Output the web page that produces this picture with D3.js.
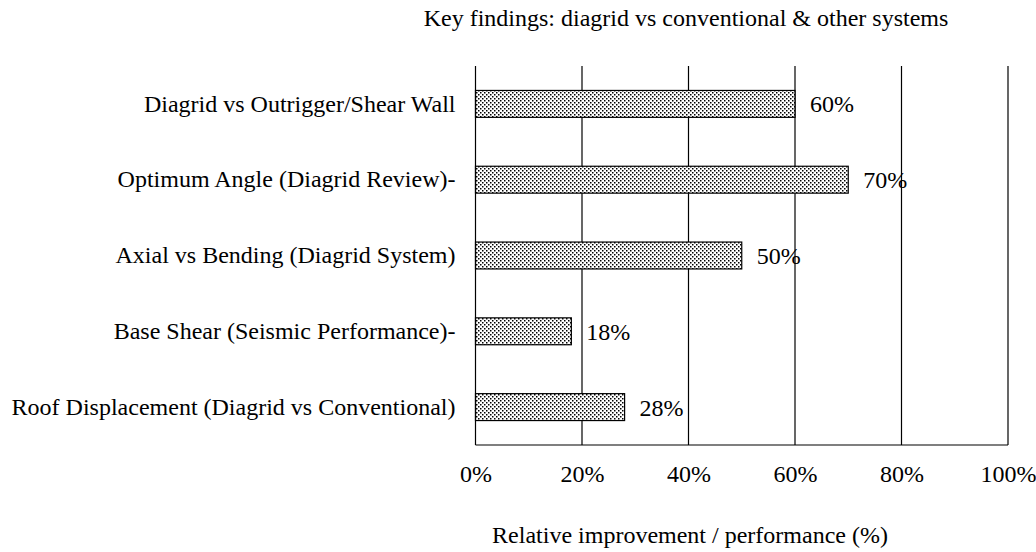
<!DOCTYPE html>
<html><head><meta charset="utf-8">
<script src="https://cdn.jsdelivr.net/npm/d3@7"></script>
<style>body{margin:0;background:#fff}svg{display:block}</style>
</head><body><svg id="c" width="1036" height="552"></svg>
<script>
const categories = ["Diagrid vs Outrigger/Shear Wall","Optimum Angle (Diagrid Review)-","Axial vs Bending (Diagrid System)","Base Shear (Seismic Performance)-","Roof Displacement (Diagrid vs Conventional)"];
const values = [60, 70, 50, 18, 28];
const valueLabels = ["60%","70%","50%","18%","28%"];
const tickValues = [0, 20, 40, 60, 80, 100];
const tickLabels = ["0%","20%","40%","60%","80%","100%"];
const title = "Key findings: diagrid vs conventional & other systems";
const xTitle = "Relative improvement / performance (%)";

const FONT = "'Liberation Serif', 'Times New Roman', Times, 'DejaVu Serif', serif";
const svg = d3.select("#c").attr("font-family", FONT);
const L = 475.5, R = 1008, T = 66, B = 445;
const fs = 24;
const x = d3.scaleLinear().domain([0,100]).range([L,R]);
const y = d3.scaleBand().domain(categories).range([T,B]).paddingInner(0.645).paddingOuter(0.3225);

const defs = svg.append("defs");
const pat = defs.append("pattern").attr("id","dots").attr("patternUnits","userSpaceOnUse").attr("width",4).attr("height",4);
pat.append("rect").attr("width",4).attr("height",4).attr("fill","#fff");
pat.append("rect").attr("x",0).attr("y",0).attr("width",1.5).attr("height",1.5).attr("fill","#000");
pat.append("rect").attr("x",2).attr("y",2).attr("width",1.5).attr("height",1.5).attr("fill","#000");

svg.append("g").selectAll("line").data(tickValues.slice(1)).join("line")
  .attr("x1",d=>x(d)).attr("x2",d=>x(d)).attr("y1",T).attr("y2",B)
  .attr("stroke","#000").attr("stroke-width",1.2);

svg.append("g").selectAll("rect").data(values).join("rect")
  .attr("x",x(0)).attr("y",(d,i)=>y(categories[i]))
  .attr("width",d=>x(d)-x(0)).attr("height",y.bandwidth())
  .attr("fill","url(#dots)").attr("stroke","#000").attr("stroke-width",1.2);

svg.append("line").attr("x1",L).attr("x2",L).attr("y1",T).attr("y2",B).attr("stroke","#000").attr("stroke-width",1.2);
svg.append("line").attr("x1",L).attr("x2",R).attr("y1",B).attr("y2",B).attr("stroke","#000").attr("stroke-width",1.2);

const xa = d3.axisBottom(x).tickValues(tickValues).tickFormat((d,i)=>tickLabels[i]).tickSize(0).tickPadding(20);
const gx = svg.append("g").attr("transform",`translate(0,${B})`).call(xa);
gx.attr("font-family", FONT).attr("font-size", fs);
gx.select(".domain").remove();

const ya = d3.axisLeft(y).tickSize(0).tickPadding(20);
const gy = svg.append("g").attr("transform",`translate(${L},0)`).call(ya);
gy.attr("font-family", FONT).attr("font-size", fs);
gy.select(".domain").remove();

svg.append("g").attr("font-size", fs).selectAll("text").data(values).join("text")
  .attr("x",d=>x(d)+15).attr("y",(d,i)=>y(categories[i])+y.bandwidth()/2)
  .attr("dy","0.35em").text((d,i)=>valueLabels[i]);

svg.append("text").attr("x",686).attr("y",26).attr("text-anchor","middle").attr("font-size",fs).text(title);
svg.append("text").attr("x",690).attr("y",543).attr("text-anchor","middle").attr("font-size",fs).text(xTitle);
</script></body></html>
